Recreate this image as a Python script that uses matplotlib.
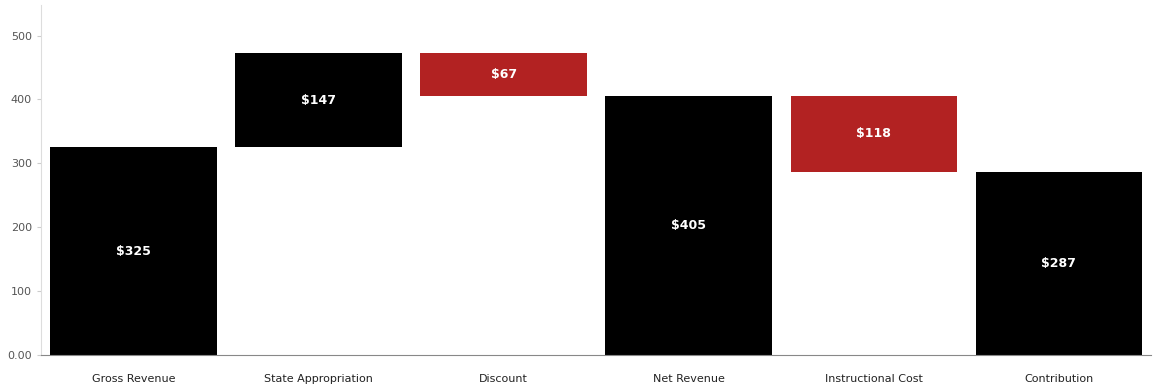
import matplotlib.pyplot as plt

categories = ["Gross Revenue", "State Appropriation", "Discount",
              "Net Revenue", "Instructional Cost", "Contribution"]
changes = [325, 147, -67, 405, -118, 287]
is_total = [True, False, False, True, False, True]
labels = ["$325", "$147", "$67", "$405", "$118", "$287"]

bottoms = []
heights = []
colors = []
running = 0
for v, tot in zip(changes, is_total):
    if tot:
        bottoms.append(0)
        heights.append(v)
        running = v
        colors.append("black")
    else:
        if v >= 0:
            bottoms.append(running)
            heights.append(v)
            colors.append("black")
        else:
            bottoms.append(running + v)
            heights.append(-v)
            colors.append("#b22222")
        running += v

fig = plt.figure(figsize=(11.53, 3.89), dpi=100)
ax = fig.add_axes([0.0356, 0.0874, 0.963, 0.9])

x = range(len(categories))
ax.bar(x, heights, bottom=bottoms, width=0.9, color=colors)
for i, (b, h, lab) in enumerate(zip(bottoms, heights, labels)):
    ax.text(i, b + h / 2, lab, ha="center", va="center", color="white",
            fontsize=9, fontweight="bold")

ax.set_xlim(-0.5, len(categories) - 0.5)
ax.set_ylim(0, 548)
ax.set_yticks([0, 100, 200, 300, 400, 500])
ax.set_yticklabels(["0.00", "100", "200", "300", "400", "500"])
ax.set_xticks(list(x))
ax.set_xticklabels(categories, fontsize=8, color="#222222")
ax.tick_params(axis="x", length=0, pad=14)
ax.tick_params(axis="y", labelsize=8, colors="#555555", length=3, color="#cccccc")
for s in ["top", "right"]:
    ax.spines[s].set_visible(False)
ax.spines["left"].set_color("#dddddd")
ax.spines["bottom"].set_color("#888888")

fig.savefig("out.png")
